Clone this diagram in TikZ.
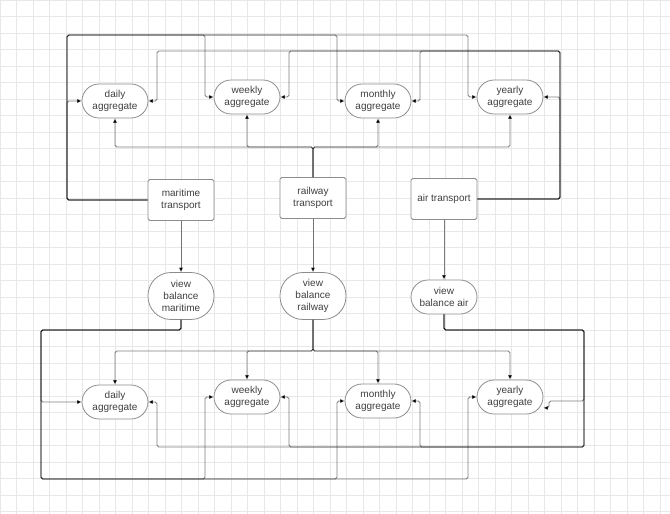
\documentclass[tikz,border=0pt]{standalone}
\usepackage{fontspec}
\setmainfont{Liberation Sans}
\usetikzlibrary{arrows.meta}

\begin{document}
\begin{tikzpicture}[x=0.02cm, y=-0.02cm,
    every node/.style={font=\fontsize{5.7}{6.9}\selectfont, text=black!75, align=center, inner sep=0pt},
    aggr/.style={draw=black!45, line width=0.45pt, fill=white, rounded corners=0.34cm, minimum width=1.32cm, minimum height=0.68cm},
    viewbal/.style={draw=black!45, line width=0.45pt, fill=white, rounded corners=0.46cm, minimum width=1.32cm, minimum height=0.94cm},
    transp/.style={draw=black!45, line width=0.45pt, fill=white, rounded corners=1pt, minimum width=1.32cm, minimum height=0.82cm},
    conn/.style={draw=black, draw opacity=0.5, line width=0.5pt, rounded corners=1pt, -{Triangle[length=2.6pt,width=2.2pt]}}]
        \useasboundingbox (0,0) rectangle (670,514);

        % background grid
        \foreach \i in {0,...,40}
            \draw[black!9, line width=0.4pt] (\i*16.5,0) -- (\i*16.5,514);
        \foreach \j in {0,...,31}
            \draw[black!9, line width=0.4pt] (0,\j*16.5) -- (670,\j*16.5);

        % transports and balances
        \node[transp] (maritime) at (181,200) {maritime\\transport};
        \node[transp] (railway) at (313,198) {railway\\transport};
        \node[transp] (air) at (444,199) {air transport};
        \node[viewbal] (viewMar) at (181,296) {view\\balance\\maritime};
        \node[viewbal] (viewRail) at (313,296) {view\\balance\\railway};
        \node[aggr] (viewAir) at (444,297) {view\\balance air};

        % upper aggregates
        \node[aggr] (dailyT) at (115,101) {daily\\aggregate};
        \node[aggr] (weeklyT) at (247,97) {weekly\\aggregate};
        \node[aggr] (monthlyT) at (378,101) {monthly\\aggregate};
        \node[aggr] (yearlyT) at (510,97) {yearly\\aggregate};

        % lower aggregates
        \node[aggr] (dailyB) at (115,402) {daily\\aggregate};
        \node[aggr] (weeklyB) at (247,397) {weekly\\aggregate};
        \node[aggr] (monthlyB) at (378,401) {monthly\\aggregate};
        \node[aggr] (yearlyB) at (510,397) {yearly\\aggregate};

        % bus points
        \coordinate (marTop) at (67,35);
        \coordinate (airTop) at (560,51);
        \coordinate (railTop) at (313,147);
        \coordinate (marLow) at (41,330);
        \coordinate (airLow) at (584,330);
        \coordinate (railLow) at (313,351);

        % transport to balance
        \draw[conn] (maritime) -- (viewMar);
        \draw[conn] (railway) -- (viewRail);
        \draw[conn] (air) -- (viewAir);

        % maritime to upper row
        \draw[conn] (maritime.west) -| (67,101) -- (dailyT.west);
        \draw[conn] (maritime.west) -| (marTop) -| (205,97) -- (weeklyT.west);
        \draw[conn] (maritime.west) -| (marTop) -| (337,101) -- (monthlyT.west);
        \draw[conn] (maritime.west) -| (marTop) -| (468,97) -- (yearlyT.west);

        % air to upper row
        \draw[conn] (air.east) -| (560,97) -- (yearlyT.east);
        \draw[conn] (air.east) -| (airTop) -| (420,101) -- (monthlyT.east);
        \draw[conn] (air.east) -| (airTop) -| (289,97) -- (weeklyT.east);
        \draw[conn] (air.east) -| (airTop) -| (157,101) -- (dailyT.east);

        % railway to upper row
        \draw[conn] (railway.north) -- (railTop) -| (dailyT.south);
        \draw[conn] (railway.north) -- (railTop) -| (weeklyT.south);
        \draw[conn] (railway.north) -- (railTop) -| (monthlyT.south);
        \draw[conn] (railway.north) -- (railTop) -| (yearlyT.south);

        % maritime balance to lower row
        \draw[conn] (viewMar.south) |- (marLow) |- (dailyB.west);
        \draw[conn] (viewMar.south) |- (marLow) |- (205,479) |- (weeklyB.west);
        \draw[conn] (viewMar.south) |- (marLow) |- (337,479) |- (monthlyB.west);
        \draw[conn] (viewMar.south) |- (marLow) |- (468,479) |- (yearlyB.west);

        % air balance to lower row
        \draw[conn] (viewAir.south) |- (airLow) |- (549,401) -- (549,408) -- (yearlyB.-18);
        \draw[conn] (viewAir.south) |- (airLow) |- (420,447) |- (monthlyB.east);
        \draw[conn] (viewAir.south) |- (airLow) |- (289,447) |- (weeklyB.east);
        \draw[conn] (viewAir.south) |- (airLow) |- (157,447) |- (dailyB.east);

        % railway balance to lower row
        \draw[conn] (viewRail.south) -- (railLow) -| (dailyB.north);
        \draw[conn] (viewRail.south) -- (railLow) -| (weeklyB.north);
        \draw[conn] (viewRail.south) -- (railLow) -| (monthlyB.north);
        \draw[conn] (viewRail.south) -- (railLow) -| (yearlyB.north);
\end{tikzpicture}
\end{document}
